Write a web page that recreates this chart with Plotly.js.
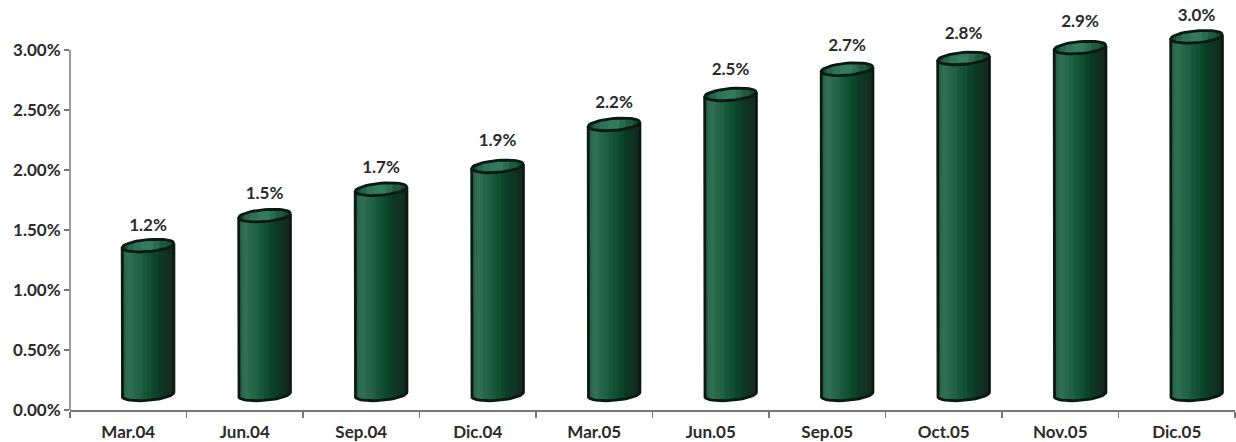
<!DOCTYPE html>
<html><head><meta charset="utf-8">
<script src="https://cdn.plot.ly/plotly-3.0.1.min.js"></script>
<style>html,body{margin:0;padding:0;background:#fff}#c{width:1236px;height:442px}</style></head>
<body><div id="c"></div>
<script>
const categories=["Mar.04","Jun.04","Sep.04","Dic.04","Mar.05","Jun.05","Sep.05","Oct.05","Nov.05","Dic.05"];
const labels=["1.2%","1.5%","1.7%","1.9%","2.2%","2.5%","2.7%","2.8%","2.9%","3.0%"];
const tops=[1.37,1.62,1.84,2.03,2.38,2.63,2.84,2.93,3.02,3.11];
const base=[0.13,0.13,0.13,0.13,0.13,0.13,0.13,0.13,0.13,0.13];
const labelY=[1.525,1.795,2.01,2.235,2.555,2.83,3.025,3.125,3.23,3.28];
const bodyRamp=["#2c5f4a","#2f6a50","#2f6f53","#2b6c4f","#26674a","#216245","#1b5c3f","#165639","#115033","#0d4a2e","#0b442a","#0c3e27","#0e3826","#113325","#132e23","#152a21"];
const capRamp=["#1a4a36","#256450","#2f7259","#347a60","#337a5f","#2a6c52","#1e5a42","#154a34"];
const off=0.17,hw=0.222,eh=0.05,tilt=0.018,N=26;
const traces=[{type:"bar",x:categories,y:categories.map(()=>0),xaxis:"x",yaxis:"y",opacity:0,hoverinfo:"skip",showlegend:false}];
const centers=categories.map((_,i)=>i+off);
const dx=2*hw/N;
const ramp=(r,f)=>r[Math.min(r.length-1,Math.floor(f*r.length))];
for(let k=0;k<N;k++){
  const u=-1+(2*k+1)/N, f=(k+.5)/N, q=Math.sqrt(1-u*u);
  traces.push({type:"bar",xaxis:"x2",yaxis:"y",x:centers.map(c=>c+u*hw),width:dx*1.7,
    base:base.map(b=>b+tilt*u-eh*q),y:tops.map((t,i)=>t-base[i]),
    marker:{color:ramp(bodyRamp,f),line:{width:0}},hoverinfo:"skip",showlegend:false});
}
for(let k=0;k<N;k++){
  const u=-1+(2*k+1)/N, f=(k+.5)/N, q=Math.sqrt(1-u*u);
  traces.push({type:"bar",xaxis:"x2",yaxis:"y",x:centers.map(c=>c+u*hw),width:dx*1.7,
    base:tops.map(t=>t+tilt*u-eh*q),y:tops.map(()=>2*eh*q),
    marker:{color:ramp(capRamp,f),line:{width:0}},hoverinfo:"skip",showlegend:false});
}
const ox=[],oy=[];
centers.forEach((c,i)=>{
  for(let a=0;a<=40;a++){const t=a/40*2*Math.PI;ox.push(c+hw*Math.cos(t));oy.push(tops[i]+tilt*Math.cos(t)+eh*Math.sin(t));}
  ox.push(null);oy.push(null);
  ox.push(c-hw);oy.push(tops[i]-tilt);
  for(let a=0;a<=20;a++){const t=Math.PI+a/20*Math.PI;ox.push(c+hw*Math.cos(t));oy.push(base[i]+tilt*Math.cos(t)+eh*Math.sin(t));}
  ox.push(c+hw);oy.push(tops[i]+tilt);ox.push(null);oy.push(null);
});
traces.push({type:"scatter",mode:"lines",xaxis:"x2",yaxis:"y",x:ox,y:oy,line:{color:"#0a1a12",width:2.8},hoverinfo:"skip",showlegend:false});
traces.push({type:"scatter",mode:"text",xaxis:"x2",yaxis:"y",x:centers,y:labelY,text:labels,textposition:"middle center",
  textfont:{family:"Lato, sans-serif",size:17,color:"#2b2b2b",weight:700},hoverinfo:"skip",showlegend:false});
const font={family:"Lato, sans-serif",size:17,color:"#2b2b2b",weight:700};
Plotly.newPlot("c",traces,{
  width:1236,height:442,paper_bgcolor:"#fff",plot_bgcolor:"#fff",showlegend:false,barmode:"overlay",
  margin:{l:70,r:1,t:0,b:32,pad:0},
  shapes:[{type:"line",xref:"paper",yref:"y",x0:0,x1:0,y0:0,y1:3,line:{color:"#777",width:1.5}}],
  xaxis:{type:"category",range:[-0.5,9.5],tickson:"boundaries",ticks:"outside",ticklen:6,tickcolor:"#777",tickwidth:1.5,showline:true,linecolor:"#777",linewidth:1.5,showgrid:false,zeroline:false,tickfont:font,fixedrange:true,categoryarray:categories,categoryorder:"array",ticklabelstandoff:6},
  xaxis2:{overlaying:"x",type:"linear",range:[-0.5,9.5],visible:false,fixedrange:true},
  yaxis:{range:[0,3.41667],tickvals:[0,0.5,1,1.5,2,2.5,3],ticktext:["0.00%","0.50%","1.00%","1.50%","2.00%","2.50%","3.00%"],ticks:"outside",ticklen:5,tickcolor:"#777",tickwidth:1.5,showline:false,showgrid:false,zeroline:false,tickfont:font,fixedrange:true}
},{displayModeBar:false,staticPlot:true});
</script></body></html>
